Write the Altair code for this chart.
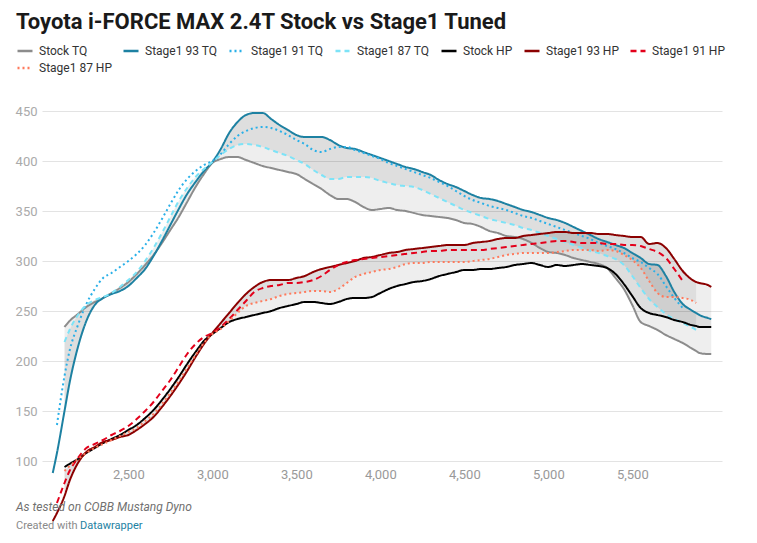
import altair as alt
import pandas as pd

TITLE = "Toyota i-FORCE MAX 2.4T Stock vs Stage1 Tuned"
FOOTNOTE = "As tested on COBB Mustang Dyno"

RPM = [2050, 2075, 2120, 2150,
       2200, 2250, 2300, 2350, 2400, 2450,
       2500, 2550, 2600, 2650, 2700, 2750, 2800, 2850, 2900, 2950,
       3000, 3050, 3100, 3150, 3200, 3250, 3300, 3350, 3400, 3450,
       3500, 3550, 3600, 3650, 3700, 3750, 3800, 3850, 3900, 3950,
       4000, 4050, 4100, 4150, 4200, 4250, 4300, 4350, 4400, 4450,
       4500, 4550, 4600, 4650, 4700, 4750, 4800, 4850, 4900, 4950,
       5000, 5050, 5100, 5150, 5200, 5250, 5300, 5350, 5400, 5450,
       5500, 5550, 5600, 5650, 5700, 5750, 5800, 5850,
       5880, 5900, 5950, 5970]

stock_tq = [None, None, 234, 240,
            247, 254, 259, 263, 268, 273,
            279, 287, 296, 306, 318, 331, 344, 359, 374, 387,
            398, 402, 404, 404, 401, 398, 395, 393, 391, 389,
            387, 382, 377, 372, 366, 362, 362, 359, 354, 351,
            352, 353, 351, 350, 348, 346, 345, 344, 343, 341,
            338, 337, 334, 330, 328, 325, 324, 322, 318, 313,
            309, 308, 306, 303, 301, 299, 297, 293, 283, 272,
            256, 239, 235, 231, 226, 222, 218, 213,
            210, 208, 207, 207]

s93_tq = [88, 108, 150, 178,
          214, 240, 256, 263, 267, 270,
          275, 283, 292, 305, 320, 336, 352, 367, 379, 390,
          399, 412, 428, 439, 446, 448, 448, 442, 436, 431,
          426, 424, 424, 424, 421, 416, 413, 412, 409, 406,
          403, 400, 397, 394, 392, 389, 386, 381, 377, 374,
          370, 366, 363, 362, 360, 357, 354, 351, 349, 346,
          343, 341, 338, 334, 330, 326, 322, 319, 316, 313,
          308, 303, 297, 296, 285, 269, 257, 251,
          248, 246, 243, 242]

s91_tq = [None, 136, 185, 210,
          236, 257, 272, 283, 288, 294,
          300, 307, 316, 328, 342, 357, 371, 382, 390, 396,
          400, 407, 417, 425, 430, 433, 434, 433, 430, 426,
          421, 417, 411, 409, 412, 414, 414, 411, 408, 405,
          402, 398, 395, 392, 389, 386, 383, 379, 375, 370,
          365, 361, 358, 355, 353, 351, 348, 345, 343, 340,
          337, 334, 331, 328, 325, 322, 318, 315, 312, 308,
          303, 299, 293, 287, 275, 263, 253, None,
          None, None, None, None]

s87_tq = [None, None, 219, 231,
          246, 256, 261, 264, 268, 274,
          281, 289, 300, 313, 328, 344, 360, 373, 384, 392,
          399, 406, 412, 416, 417, 416, 414, 411, 408, 405,
          401, 397, 391, 386, 382, 382, 384, 384, 384, 383,
          380, 378, 376, 375, 374, 371, 367, 363, 359, 355,
          351, 348, 345, 342, 340, 338, 336, 333, 331, 328,
          325, 322, 319, 316, 313, 310, 308, 305, 302, 296,
          285, 273, 262, 254, 247, 242, 238, 234,
          231, None, None, None]

stock_hp = [None, None, 94, 97,
            102, 108, 113, 118, 122, 126,
            131, 136, 143, 151, 161, 172, 184, 197, 209, 220,
            227, 233, 239, 242, 244, 246, 248, 250, 253, 255,
            257, 259, 259, 258, 257, 259, 262, 263, 263, 264,
            268, 272, 275, 277, 279, 280, 282, 285, 287, 289,
            291, 291, 292, 292, 293, 294, 296, 297, 298, 296,
            294, 296, 295, 296, 297, 296, 295, 293, 287, 277,
            265, 253, 248, 246, 244, 241, 239, 236,
            235, 234, 234, 234]

s93_hp = [40, 48, 65, 80,
          98, 109, 114, 119, 121, 124,
          126, 131, 137, 144, 154, 165, 177, 190, 204, 217,
          228, 238, 248, 258, 267, 274, 279, 281, 281, 281,
          283, 285, 289, 292, 294, 296, 298, 300, 303, 304,
          306, 308, 309, 311, 312, 313, 314, 315, 316, 316,
          316, 318, 319, 320, 322, 323, 323, 325, 326, 327,
          328, 329, 329, 328, 328, 328, 327, 327, 326, 325,
          324, 324, 317, 318, 313, 302, 290, 282,
          279, 278, 276, 274]

s91_hp = [None, 58, 78, 90,
          103, 113, 117, 121, 126, 130,
          135, 142, 150, 159, 170, 181, 194, 207, 217, 224,
          228, 234, 242, 251, 260, 269, 273, 275, 276, 278,
          278, 279, 281, 285, 291, 296, 299, 301, 302, 303,
          304, 305, 306, 307, 308, 309, 310, 310, 311, 311,
          311, 311, 311, 312, 313, 314, 315, 316, 317, 318,
          319, 320, 320, 319, 318, 318, 318, 317, 317, 316,
          316, 315, 312, 309, 303, 292, 280, None,
          None, None, None, None]

s87_hp = [None, None, 90, 95,
          102, 108, 113, 117, 121, 125,
          129, 133, 140, 147, 157, 168, 180, 193, 206, 218,
          227, 232, 240, 248, 255, 258, 260, 262, 265, 267,
          268, 269, 270, 270, 269, 272, 278, 284, 287, 289,
          291, 292, 294, 297, 298, 298, 299, 299, 299, 299,
          299, 300, 301, 302, 304, 306, 307, 308, 308, 308,
          308, 309, 310, 311, 311, 311, 310, 311, 310, 306,
          301, 293, 280, 268, 264, 264, 263, 261,
          258, None, None, None]

SERIES = ["Stock TQ", "Stage1 93 TQ", "Stage1 91 TQ", "Stage1 87 TQ",
          "Stock HP", "Stage1 93 HP", "Stage1 91 HP", "Stage1 87 HP"]
COLORS = ["#8c8c8c", "#1d81a2", "#2ab0e8", "#7de3f7",
          "#000000", "#8b0000", "#e3001b", "#ff7a5c"]
DASHES = [[1, 0], [1, 0], [2, 3], [5, 4], [1, 0], [1, 0], [6, 4], [2, 3]]

wide = pd.DataFrame({
    "rpm": RPM,
    "Stock TQ": stock_tq, "Stage1 93 TQ": s93_tq,
    "Stage1 91 TQ": s91_tq, "Stage1 87 TQ": s87_tq,
    "Stock HP": stock_hp, "Stage1 93 HP": s93_hp,
    "Stage1 91 HP": s91_hp, "Stage1 87 HP": s87_hp,
})

lines_df = wide.melt(id_vars="rpm", var_name="series", value_name="value").dropna()

# shaded ranges: stock -> 93 and 87 -> 93, overlapping gives the darker band
bands = []
for name, lo, hi in [("tq_outer", "Stock TQ", "Stage1 93 TQ"),
                     ("tq_inner", "Stage1 87 TQ", "Stage1 93 TQ"),
                     ("hp_outer", "Stock HP", "Stage1 93 HP"),
                     ("hp_inner", "Stage1 87 HP", "Stage1 93 HP")]:
    part = wide[["rpm", lo, hi]].dropna().rename(columns={lo: "lo", hi: "hi"})
    part["band"] = name
    bands.append(part)
band_df = pd.concat(bands)

x_enc = alt.X("rpm:Q", scale=alt.Scale(domain=[1986, 6034], nice=False, zero=False),
              axis=alt.Axis(values=[2500, 3000, 3500, 4000, 4500, 5000, 5500], format=",d",
                            grid=False, domain=False, ticks=False, labelPadding=7,
                            labelColor="#999999", labelFontSize=13, title=None))
y_scale = alt.Scale(domain=[100, 450], nice=False, zero=False)

area = alt.Chart(band_df).mark_area(color="#000000", opacity=0.065, interpolate="monotone").encode(
    x=x_enc,
    y=alt.Y("lo:Q", scale=y_scale,
            axis=alt.Axis(values=[100, 150, 200, 250, 300, 350, 400, 450], grid=True,
                          gridColor="#e3e3e3", domain=False, ticks=False, labelPadding=5,
                          labelColor="#aaaaaa", labelFontSize=13, title=None)),
    y2="hi:Q",
    detail="band:N",
)

lines = alt.Chart(lines_df).mark_line(strokeWidth=2, interpolate="monotone").encode(
    x="rpm:Q",
    y="value:Q",
    color=alt.Color("series:N", scale=alt.Scale(domain=SERIES, range=COLORS), title=None),
    strokeDash=alt.StrokeDash("series:N", scale=alt.Scale(domain=SERIES, range=DASHES), title=None),
)

foot = alt.Chart(pd.DataFrame({"t": [FOOTNOTE]})).mark_text(
    align="left", baseline="middle", fontSize=12, fontStyle="italic", color="#707070"
).encode(x=alt.value(-26), y=alt.value(396), text="t:N")

credit = alt.Chart(pd.DataFrame({"t": ["Created with"]})).mark_text(
    align="left", baseline="middle", fontSize=11, color="#8a8a8a"
).encode(x=alt.value(-26), y=alt.value(415), text="t:N")

credit_link = alt.Chart(pd.DataFrame({"t": ["Datawrapper"]})).mark_text(
    align="left", baseline="middle", fontSize=11, color="#1d81a2"
).encode(x=alt.value(38), y=alt.value(415), text="t:N")

chart = alt.layer(area, lines, foot, credit, credit_link).properties(
    width=680,
    height=350,
    autosize=alt.AutoSizeParams(type="none"),
    padding={"left": 34, "top": 103, "right": 20, "bottom": 70},
    title=alt.TitleParams(TITLE, anchor="start", frame="group", fontSize=22,
                          fontWeight="bold", color="#1a1a1a", dx=-26, dy=-4),
).configure(
    font="Roboto"
).configure_view(
    stroke=None
).configure_legend(
    orient="none", legendX=-26, legendY=-69, direction="horizontal", columns=7,
    gridAlign="none", symbolType="stroke", symbolSize=225, symbolStrokeWidth=2.5,
    labelFontSize=12, labelColor="#333333", labelOffset=5,
    columnPadding=6, rowPadding=2,
)

chart.save("out.html", embed_options={"renderer": "svg", "actions": False})
